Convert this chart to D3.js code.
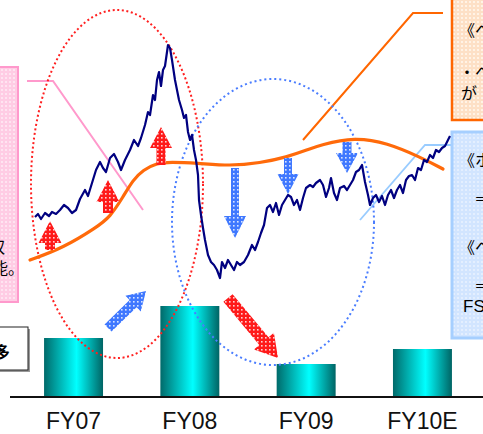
<!DOCTYPE html>
<html><head><meta charset="utf-8">
<script src="https://cdn.jsdelivr.net/npm/d3@7"></script>
<style>
html,body{margin:0;padding:0;background:#fff;overflow:hidden;}
svg{display:block;}
</style></head>
<body>
<script>
// ---- data ----
const categories = ["FY07", "FY08", "FY09", "FY10E"];
const barValues = [59, 91, 33, 48];

// price series: week index, index level
const weeks = [0,3,6,10,14,17,21,25,29,33,37,41,45,50,53,57,61,65,68,71,75,79,83,86,90,95,99,103,106,110,113,115,118,120,122,124,126,128,130,133,135,137,140,142,144,147,149,151,153,155,157,159,161,163,164,166,168,170,173,176,179,182,185,187,190,193,196,199,202,205,209,213,217,220,223,226,229,232,235,238,241,244,247,250,253,256,259,262,265,268,271,275,278,281,285,288,291,294,296,299,302,305,309,312,315,318,321,324,327,330,333,335,338,341,344,347,350,353,356,359,362,365,368,371,374,377,380,383,386,389,392,395,398,401,404,407,410,413,415];
const prices = [830,860,810,870,840,880,860,900,950,920,870,900,1010,1100,1040,1170,1300,1380,1320,1280,1420,1460,1380,1300,1400,1500,1600,1540,1620,1750,1880,1850,2050,2000,2200,2280,2140,2300,2340,2550,2520,2400,2200,2100,2000,1900,1820,1850,1680,1600,1650,1500,1400,1250,1000,850,720,600,450,380,350,300,220,380,320,400,350,300,380,350,380,450,550,500,580,670,750,920,950,880,970,850,950,1000,1050,1030,950,1000,900,1020,1120,1150,1130,1170,1200,1150,1030,1120,1220,1070,1000,1120,1140,1100,1150,1200,1280,1300,1350,1180,1050,950,1020,1050,980,1040,950,1050,1100,1020,1100,1150,1070,1200,1240,1250,1200,1320,1300,1400,1380,1450,1420,1500,1480,1520,1540,1600,1640];

// smooth trend curve
const trendWeeks = [-5,28,62,75,88,98,108,122,135,162,195,225,252,272,285,320,352,385,408];
const trendValues = [400,520,730,830,1030,1200,1300,1370,1380,1370,1340,1370,1430,1500,1550,1630,1570,1430,1310];

// ---- drawing ----
const W = 483, H = 434;
const svg = d3.select("body").append("svg").attr("width", W).attr("height", H);
const defs = svg.append("defs");

function checkPattern(id, base, dot, size, dsz) {
  const p = defs.append("pattern").attr("id", id).attr("patternUnits", "userSpaceOnUse")
    .attr("width", size).attr("height", size);
  p.append("rect").attr("width", size).attr("height", size).attr("fill", base);
  p.append("rect").attr("x", 1).attr("y", 1).attr("width", dsz).attr("height", dsz).attr("fill", dot);
}
checkPattern("redDots", "#ff1a1a", "#ffd0d0", 4, 1.6);
checkPattern("blueDots", "#3f78ff", "#d8e4ff", 4, 1.6);
checkPattern("orangeCheck", "#fde0c6", "#fff3e6", 4, 2);
checkPattern("pinkCheck", "#ffcce4", "#ffe4f1", 4, 2);
checkPattern("blueCheck", "#d2e5ff", "#e4efff", 4, 2);

const grad = defs.append("linearGradient").attr("id", "cyl").attr("x1", "0%").attr("x2", "100%");
grad.append("stop").attr("offset", "0%").attr("stop-color", "#006a6a");
grad.append("stop").attr("offset", "55%").attr("stop-color", "#00ffff");
grad.append("stop").attr("offset", "100%").attr("stop-color", "#006464");

// scales
const xBand = d3.scaleBand().domain(categories).range([15.4, 480.6]).paddingInner(0.493).paddingOuter(0.2465);
const yBar = d3.scaleLinear().domain([0, 100]).range([397, 297]);
const x = d3.scaleLinear().domain([0, 415]).range([35, 450]);
const y = d3.scaleLinear().domain([0, 3000]).range([300, 0]);

// bars
svg.append("g").selectAll("rect").data(categories).join("rect")
  .attr("x", d => xBand(d)).attr("width", xBand.bandwidth())
  .attr("y", (d, i) => yBar(barValues[i])).attr("height", (d, i) => yBar(0) - yBar(barValues[i]))
  .attr("fill", "url(#cyl)");

// baseline axis
const axis = svg.append("g").attr("transform", `translate(0,${yBar(0)})`)
  .call(d3.axisBottom(xBand).tickSize(0).tickPadding(16));
axis.select(".domain").attr("d", "M10,0H483").attr("stroke", "#111").attr("stroke-width", 2);
axis.selectAll("text").attr("font-family", "Liberation Sans, Arial, sans-serif")
  .attr("font-size", 23).attr("fill", "#111").attr("dy", "0.71em");

// connector lines
svg.append("polyline").attr("points", "27,81 53,81 143,210").attr("fill", "none")
  .attr("stroke", "#ff99cc").attr("stroke-width", 2);
svg.append("polyline").attr("points", "303,140 413,13 443,13").attr("fill", "none")
  .attr("stroke", "#ff6600").attr("stroke-width", 2);
svg.append("polyline").attr("points", "360,220 425,145 452,145").attr("fill", "none")
  .attr("stroke", "#99ccff").attr("stroke-width", 1.8);

// boxes
svg.append("rect").attr("x", -10).attr("y", 67).attr("width", 28).attr("height", 235)
  .attr("fill", "url(#pinkCheck)").attr("stroke", "#ff99cc").attr("stroke-width", 2);
svg.append("rect").attr("x", 452).attr("y", -10).attr("width", 40).attr("height", 130)
  .attr("fill", "url(#orangeCheck)").attr("stroke", "#ff6600").attr("stroke-width", 2.5);
svg.append("rect").attr("x", 452).attr("y", 132).attr("width", 40).attr("height", 206)
  .attr("fill", "url(#blueCheck)").attr("stroke", "#a6cfff").attr("stroke-width", 3);
svg.append("rect").attr("x", -3).attr("y", 329).attr("width", 33).attr("height", 43).attr("fill", "#999");
svg.append("rect").attr("x", -5).attr("y", 327).attr("width", 33).attr("height", 43)
  .attr("fill", "#fff").attr("stroke", "#222").attr("stroke-width", 1);

const jp = "Noto Sans CJK JP, sans-serif";
function txt(s, tx, ty, size, extra) {
  const t = svg.append("text").attr("x", tx).attr("y", ty).attr("font-family", jp)
    .attr("font-size", size).attr("fill", "#000").text(s);
  if (extra) extra(t);
  return t;
}
txt("収", -11, 253, 16);
txt("能。", -8, 274, 16);
txt("多", -6, 358, 16, t => t.attr("font-weight", "bold"));
txt("《ヘ", 459, 36, 16);
txt("・ヘ", 459, 78, 16);
txt("が", 461, 99, 16);
txt("《ホ", 459, 166, 16);
txt("＝", 474, 205, 16);
txt("《ヘ", 459, 253, 16);
txt("＝", 474, 292, 16);
svg.append("text").attr("x", 463).attr("y", 312).attr("font-family", "Liberation Sans, Arial, sans-serif")
  .attr("font-size", 17).attr("fill", "#000").text("FS");

// dotted ellipses
svg.append("ellipse").attr("cx", 117).attr("cy", 184).attr("rx", 86).attr("ry", 174)
  .attr("fill", "none").attr("stroke", "#ff2020").attr("stroke-width", 2).attr("stroke-dasharray", "2,2.6");
svg.append("ellipse").attr("cx", 273).attr("cy", 222).attr("rx", 101).attr("ry", 143)
  .attr("fill", "none").attr("stroke", "#4a7dff").attr("stroke-width", 2).attr("stroke-dasharray", "2,3");

// trend curve
const trendLine = d3.line().x((d, i) => x(trendWeeks[i])).y(d => y(d)).curve(d3.curveBasis);
svg.append("path").attr("d", trendLine(trendValues)).attr("fill", "none")
  .attr("stroke", "#ff6a0a").attr("stroke-width", 3.2).attr("stroke-linecap", "round");

// price line
const priceLine = d3.line().x((d, i) => x(weeks[i])).y(d => y(d));
svg.append("path").attr("d", priceLine(prices)).attr("fill", "none")
  .attr("stroke", "#000080").attr("stroke-width", 2.2).attr("stroke-linejoin", "round");

// arrows
function arrow(x1, y1, x2, y2, sw, hw, hl, fill) {
  const dx = x2 - x1, dy = y2 - y1, L = Math.hypot(dx, dy);
  const ux = dx / L, uy = dy / L, px = -uy, py = ux;
  const bx = x2 - ux * hl, by = y2 - uy * hl;
  const pts = [
    [x1 + px * sw / 2, y1 + py * sw / 2],
    [bx + px * sw / 2, by + py * sw / 2],
    [bx + px * hw / 2, by + py * hw / 2],
    [x2, y2],
    [bx - px * hw / 2, by - py * hw / 2],
    [bx - px * sw / 2, by - py * sw / 2],
    [x1 - px * sw / 2, y1 - py * sw / 2]
  ];
  svg.append("polygon").attr("points", pts.map(p => p.join(",")).join(" ")).attr("fill", fill);
}
arrow(50, 250, 50, 221, 10, 23, 22, "url(#redDots)");
arrow(108, 213, 108, 180, 10, 23, 22, "url(#redDots)");
arrow(161, 165, 161, 127, 9, 22, 21, "url(#redDots)");
arrow(235, 168, 235, 238, 8, 22, 22, "url(#blueDots)");
arrow(288, 158, 288, 194, 8, 21, 20, "url(#blueDots)");
arrow(347, 142, 347, 173, 9, 22, 20, "url(#blueDots)");
arrow(108, 328, 146, 291, 10, 22, 18, "url(#blueDots)");
arrow(228, 298, 278, 358, 12, 26, 22, "url(#redDots)");
</script>
</body></html>
